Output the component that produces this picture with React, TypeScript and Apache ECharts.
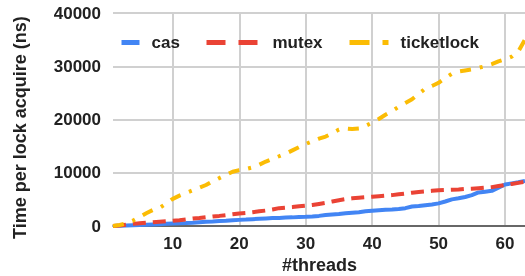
import React, { useEffect, useRef } from "react";
import * as echarts from "echarts";

const threads = Array.from({ length: 63 }, (_, i) => i + 1);

const casValues = [
  0, 50, 100, 150, 200, 250, 300, 350, 400, 450,
  500, 550, 620, 700, 780, 850, 930, 1000, 1080, 1150,
  1200, 1280, 1350, 1420, 1480, 1520, 1580, 1620, 1680, 1720,
  1800, 1900, 2050, 2150, 2250, 2400, 2500, 2600, 2750, 2850,
  2950, 3050, 3100, 3200, 3350, 3650, 3750, 3900, 4050, 4250,
  4600, 5000, 5200, 5450, 5800, 6300, 6450, 6600, 7200, 7800,
  8000, 8200, 8450,
];

const mutexValues = [
  0, 100, 250, 400, 500, 600, 700, 800, 900, 1000,
  1100, 1250, 1400, 1500, 1650, 1800, 1900, 2050, 2200, 2350,
  2450, 2600, 2750, 2900, 3100, 3350, 3450, 3550, 3700, 3800,
  3950, 4150, 4350, 4600, 4850, 5050, 5200, 5300, 5400, 5500,
  5600, 5700, 5800, 5950, 6100, 6250, 6400, 6500, 6600, 6700,
  6750, 6800, 6850, 6950, 7000, 7100, 7200, 7300, 7500, 7700,
  7900, 8100, 8300,
];

const ticketlockValues = [
  0, 200, 500, 1000, 1700, 2400, 3000, 3400, 4200, 5100,
  5700, 6200, 6700, 7200, 7700, 8400, 9000, 9600, 10200, 10500,
  10700, 11000, 11500, 12100, 12600, 13100, 13600, 14200, 14800, 15400,
  15900, 16400, 16800, 17400, 18100, 18300, 18200, 18300, 18800, 19400,
  20100, 20900, 21600, 22400, 23100, 23800, 24800, 25800, 26300, 26900,
  27800, 28600, 29000, 29200, 29400, 29700, 30000, 30400, 30900, 31300,
  31800, 32800, 35000,
];

const xTicks = [10, 20, 30, 40, 50, 60];
const seriesNames = ["cas", "mutex", "ticketlock"];
const yTitle = "Time per lock acquire (ns)";
const xTitle = "#threads";

const FONT = "'Liberation Sans', Arial, sans-serif";
const COLORS = ["#4285F4", "#EA4335", "#FBBC04"];

export default function App() {
  const ref = useRef<HTMLDivElement>(null);
  useEffect(() => {
    if (!ref.current) return;
    const chart = echarts.init(ref.current, undefined, { renderer: "svg" });
    const pair = (vals: number[]) => threads.map((t, i) => [t, vals[i]]);
    const legendBase = (name: string, left: number, width: number, dash: any, color: string) => ({
      data: [name],
      left,
      top: 34,
      padding: 0,
      itemWidth: width,
      itemHeight: 14,
      itemStyle: { opacity: 0 },
      lineStyle: { width: 5, type: dash, color, cap: "butt" },
      textStyle: {
        fontFamily: FONT,
        fontSize: 17,
        fontWeight: "bold",
        color: "#222",
        padding: [0, 0, 0, 7],
      },
    });
    chart.setOption({
      animation: false,
      textStyle: { fontFamily: FONT },
      grid: { left: 113, right: -3, top: 13, bottom: 50, containLabel: false },
      legend: [
        legendBase(seriesNames[0], 119, 18, "solid", COLORS[0]),
        legendBase(seriesNames[1], 204, 54, [19, 13], COLORS[1]),
        legendBase(seriesNames[2], 347, 39, [20, 13, 6, 13], COLORS[2]),
      ],
      xAxis: {
        type: "value",
        min: 1,
        max: 63,
        axisLine: { show: true, onZero: false, lineStyle: { color: "#444", width: 1.5 } },
        axisTick: { show: false, customValues: xTicks },
        axisLabel: {
          customValues: xTicks,
          margin: 9,
          fontFamily: FONT,
          fontSize: 17,
          fontWeight: "bold",
          color: "#222",
        },
        splitLine: { show: true, lineStyle: { color: "#d0d0d0", width: 2 } },
      },
      yAxis: {
        type: "value",
        min: 0,
        max: 40000,
        interval: 10000,
        axisLine: { show: false },
        axisTick: { show: false },
        axisLabel: {
          margin: 12,
          formatter: (v: number) => String(v),
          fontFamily: FONT,
          fontSize: 17,
          fontWeight: "bold",
          color: "#222",
        },
        splitLine: { show: true, lineStyle: { color: "#d0d0d0", width: 2 } },
      },
      graphic: [
        {
          type: "text",
          x: 19.5,
          y: 127.5,
          rotation: Math.PI / 2,
          style: {
            text: yTitle,
            fontFamily: FONT,
            fontSize: 18,
            fontWeight: "bold",
            fill: "#222",
            align: "center",
            verticalAlign: "middle",
          },
        },
        {
          type: "text",
          x: 319.5,
          y: 265,
          style: {
            text: xTitle,
            fontFamily: FONT,
            fontSize: 18,
            fontWeight: "bold",
            fill: "#222",
            align: "center",
            verticalAlign: "middle",
          },
        },
      ],
      series: [
        {
          name: seriesNames[0],
          type: "line",
          data: pair(casValues),
          showSymbol: false,
          symbol: "none",
          color: COLORS[0],
          lineStyle: { width: 4, color: COLORS[0], cap: "butt" },
        },
        {
          name: seriesNames[1],
          type: "line",
          data: pair(mutexValues),
          showSymbol: false,
          symbol: "none",
          color: COLORS[1],
          lineStyle: { width: 4, color: COLORS[1], type: [13, 7], cap: "butt" },
        },
        {
          name: seriesNames[2],
          type: "line",
          data: pair(ticketlockValues),
          showSymbol: false,
          symbol: "none",
          color: COLORS[2],
          lineStyle: { width: 4, color: COLORS[2], type: [11, 9, 3, 9], cap: "butt" },
        },
      ],
    });
    return () => chart.dispose();
  }, []);
  return <div ref={ref} style={{ width: 525, height: 276, position: "fixed", left: 0, top: 0 }} />;
}
